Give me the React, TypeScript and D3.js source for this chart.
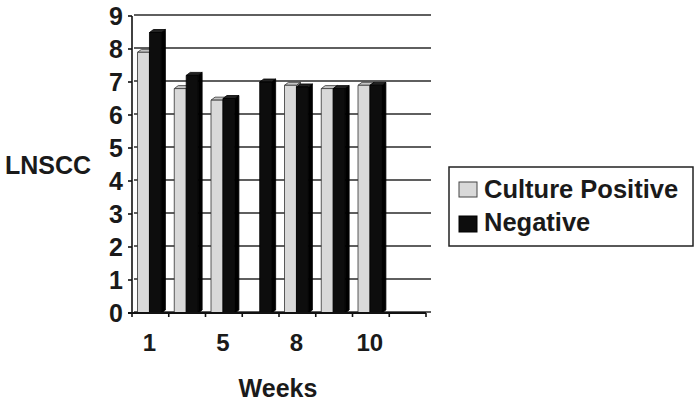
import React from "react";
import * as d3 from "d3";

const categories = ["1", "3", "5", "7", "8", "9", "10", "12"];
const shownLabels = ["1", "5", "8", "10"];
const culturePositive: (number | null)[] = [7.9, 6.8, 6.45, null, 6.9, 6.8, 6.9, null];
const negative: (number | null)[] = [8.5, 7.2, 6.5, 7.0, 6.85, 6.8, 6.9, null];
const yTicks = [0, 1, 2, 3, 4, 5, 6, 7, 8, 9];
const seriesNames = ["Culture Positive", "Negative"];

const W = 699;
const H = 408;
const left = 132;
const right = 426;
const top = 16;
const bottom = 313;
const depthX = 4;
const depthY = -3;
const font = "Arial, 'Liberation Sans', Helvetica, sans-serif";
const lightFill = "#d9d9d9";

export default function App() {
  const x = d3.scaleBand<string>().domain(categories).range([left, right]).padding(0);
  const y = d3.scaleLinear().domain([0, 9]).range([bottom, top]);
  const bw = x.bandwidth();
  const inner = d3.scaleBand<string>().domain(seriesNames).range([bw * 0.15, bw * 0.8]).padding(0);
  const fw = inner.bandwidth();

  const bar = (cx: number, v: number, fill: string, sideFill: string, topFill: string, stroke: string, key: string) => {
    const yt = y(v);
    const front = `M${cx},${bottom}L${cx},${yt}L${cx + fw},${yt}L${cx + fw},${bottom}Z`;
    const side = `M${cx + fw},${bottom}L${cx + fw},${yt}L${cx + fw + depthX},${yt + depthY}L${cx + fw + depthX},${bottom + depthY}Z`;
    const cap = `M${cx},${yt}L${cx + depthX},${yt + depthY}L${cx + fw + depthX},${yt + depthY}L${cx + fw},${yt}Z`;
    return (
      <g key={key}>
        <path d={side} fill={sideFill} stroke={stroke} strokeWidth={0.8} />
        <path d={cap} fill={topFill} stroke={stroke} strokeWidth={0.8} />
        <path d={front} fill={fill} stroke={stroke} strokeWidth={0.8} />
      </g>
    );
  };

  return (
    <svg width={W} height={H} style={{ position: "absolute", left: 0, top: 0, background: "#fff" }}>
      <rect width={W} height={H} fill="#fff" />
      {yTicks.map((t) => (
        <line key={"g" + t} x1={left + 2} x2={431} y1={y(t) - 1} y2={y(t) - 1} stroke="#2a2a2a" strokeWidth={1.7} />
      ))}
      {categories.map((c, i) => {
        const b = x(c)!;
        const out: any[] = [];
        const p = culturePositive[i];
        const n = negative[i];
        if (p != null) out.push(bar(b + inner(seriesNames[0])!, p, lightFill, "#9a9a9a", "#c4c4c4", "#333", "p" + i));
        if (n != null) out.push(bar(b + inner(seriesNames[1])!, n, "#0d0d0d", "#000", "#222", "#000", "n" + i));
        return <g key={c}>{out}</g>;
      })}
      <line x1={left} x2={left} y1={top} y2={bottom} stroke="#111" strokeWidth={1.6} />
      <line x1={left - 4} x2={right} y1={bottom} y2={bottom} stroke="#111" strokeWidth={1.8} />
      {yTicks.map((t) => (
        <g key={"yt" + t}>
          <line x1={left - 4} x2={left} y1={y(t)} y2={y(t)} stroke="#111" strokeWidth={1.6} />
          <text x={123} y={y(t)} dy="0.36em" textAnchor="end" fontFamily={font} fontWeight="bold" fontSize={25} fill="#1a1a1a">
            {t}
          </text>
        </g>
      ))}
      {[...categories.map((c) => x(c)!), right].map((v, i) => (
        <line key={"xt" + i} x1={v} x2={v} y1={bottom} y2={bottom + 4} stroke="#111" strokeWidth={1.6} />
      ))}
      {categories.map((c) =>
        shownLabels.includes(c) ? (
          <text key={"xl" + c} x={x(c)! + bw / 2 - 1} y={351} textAnchor="middle" fontFamily={font} fontWeight="bold" fontSize={24} fill="#1a1a1a">
            {c}
          </text>
        ) : null
      )}
      <text x={5} y={174} fontFamily={font} fontWeight="bold" fontSize={25} fill="#1a1a1a">
        LNSCC
      </text>
      <text x={278} y={397} textAnchor="middle" fontFamily={font} fontWeight="bold" fontSize={25} fill="#1a1a1a">
        Weeks
      </text>
      <rect x={449} y={167} width={244} height={79} fill="#fff" stroke="#222" strokeWidth={1.5} />
      <rect x={459} y={182} width={18} height={15} fill={lightFill} stroke="#444" strokeWidth={1} />
      <rect x={459} y={216} width={18} height={16} fill="#0d0d0d" stroke="#000" strokeWidth={1} />
      <text x={484} y={198} fontFamily={font} fontWeight="bold" fontSize={25.5} fill="#1a1a1a">
        {seriesNames[0]}
      </text>
      <text x={484} y={231} fontFamily={font} fontWeight="bold" fontSize={25.5} fill="#1a1a1a">
        {seriesNames[1]}
      </text>
    </svg>
  );
}
